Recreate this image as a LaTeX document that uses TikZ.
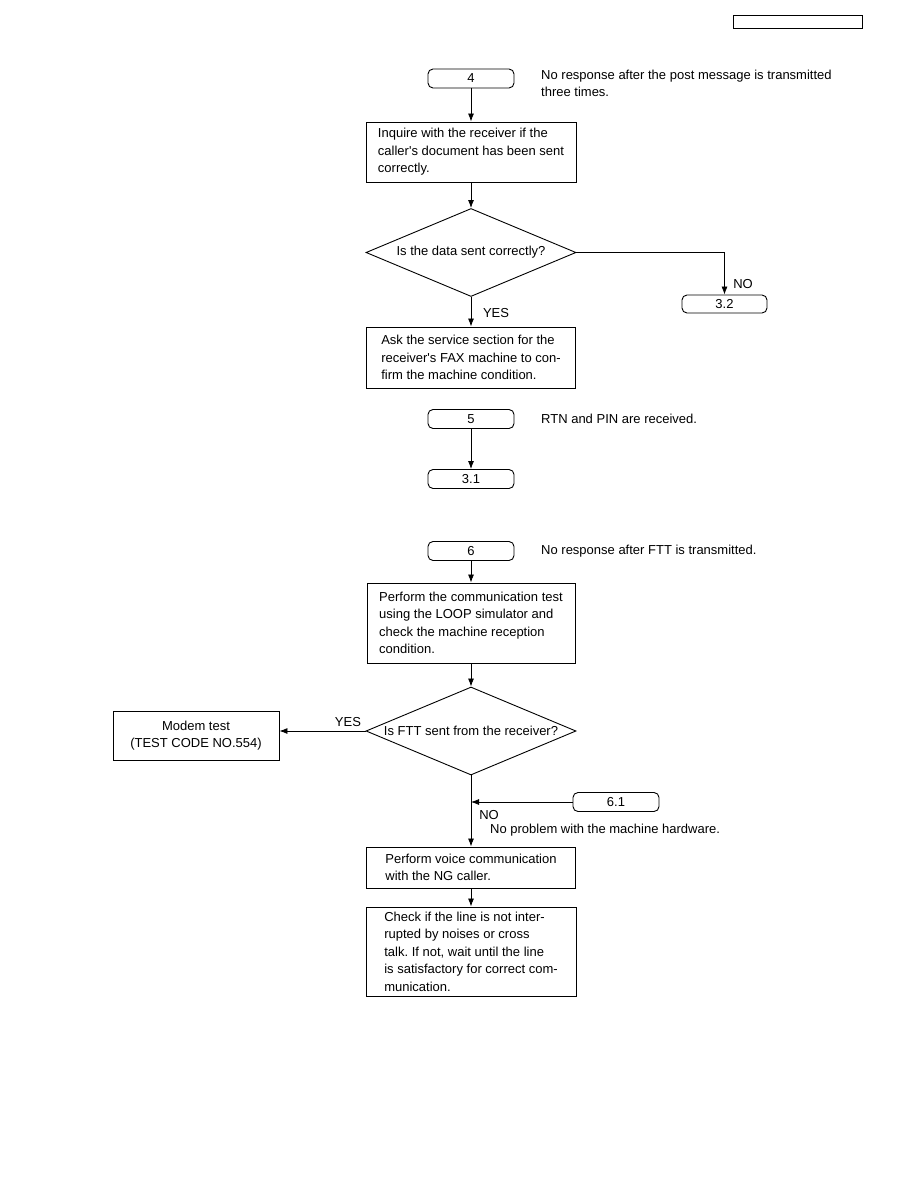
\documentclass[tikz,border=0pt]{standalone}
\usepackage{fontspec}
\setmainfont{Liberation Sans}
\usetikzlibrary{arrows.meta,shapes.geometric,positioning}

\newcommand{\flowfont}{\fontsize{13}{17.5}\selectfont\frenchspacing}

\begin{document}
\begin{tikzpicture}[
  x=1pt, y=-1pt,
  term/.style={rectangle, rounded corners=5pt, draw, line width=0.9pt,
               minimum width=86pt, minimum height=19pt, inner sep=0pt, font=\flowfont},
  proc/.style={rectangle, draw, line width=0.9pt, inner xsep=12pt, inner ysep=0pt,
               align=left, font=\flowfont},
  dec/.style={diamond, draw, line width=0.9pt, minimum width=210pt,
              minimum height=88pt, inner sep=0pt},
  lbl/.style={font=\flowfont, inner sep=0pt},
  note/.style={font=\flowfont, anchor=west, align=left, inner sep=0pt},
  arr/.style={-{Latex[length=8pt,width=6pt]}, line width=0.8pt}
]
\useasboundingbox (0,0) rectangle (918,1188);

\node[draw, line width=0.9pt, minimum width=129pt, minimum height=13pt, inner sep=0pt] (hdr) at (797.5,21.5) {};

% part 4
\node[term] (t4) at (471,78.5) {4};
\node[note] (n4) at (541,83.5) {No response after the post message is transmitted\\three times.};
\node[proc, minimum width=210pt, minimum height=60pt] (b1) at (471,152)
  {Inquire with the receiver if the\\caller\textquotesingle s document has been sent\\correctly.};
\node[dec, label={[lbl]center:Is the data sent correctly?}] (d1) at (471,252.5) {};
\node[term, minimum width=85pt, minimum height=18pt] (t32) at (724.5,304) {3.2};
\node[lbl] (no1) at (743,284) {NO};
\node[lbl] (yes1) at (496,313) {YES};
\node[proc, minimum width=209pt, minimum height=61pt] (b2) at (471,357.5)
  {Ask the service section for the\\receiver\textquotesingle s FAX machine to con-\\firm the machine condition.};

\draw[arr] (t4.south) -- (b1.north);
\draw[arr] (b1.south) -- (d1.north);
\draw[arr] (d1.east) -| (t32.north);
\draw[arr] (d1.south) -- (b2.north);

% part 5
\node[term] (t5) at (471,419) {5};
\node[note] (n5) at (541,419) {RTN and PIN are received.};
\node[term] (t31) at (471,479) {3.1};

\draw[arr] (t5.south) -- (t31.north);

% part 6
\node[term] (t6) at (471,551) {6};
\node[note] (n6) at (541,551) {No response after FTT is transmitted.};
\node[proc, minimum width=208pt, minimum height=80pt] (b3) at (471,623)
  {Perform the communication test\\using the LOOP simulator and\\check the machine reception\\condition.};
\node[dec, label={[lbl]center:Is FTT sent from the receiver?}] (d2) at (471,731) {};
\node[proc, align=center, minimum width=166pt, minimum height=49pt] (modem) at (196,735.5)
  {Modem test\\(TEST CODE NO.554)};
\node[lbl] (yes2) at (348,722) {YES};
\node[term] (t61) at (616,802) {6.1};
\node[lbl] (no2) at (489,815) {NO};
\node[note] (n61) at (490,830) {No problem with the machine hardware.};
\node[proc, minimum width=209pt, minimum height=41pt] (b4) at (471,867.5)
  {Perform voice communication\\with the NG caller.};
\node[proc, minimum width=210pt, minimum height=89pt] (b5) at (471,951.5)
  {Check if the line is not inter-\\rupted by noises or cross\\talk. If not, wait until the line\\is satisfactory for correct com-\\munication.};

\draw[arr] (t6.south) -- (b3.north);
\draw[arr] (b3.south) -- (d2.north);
\draw[arr] (d2.west) -- (d2.west -| modem.east);
\draw[arr] (d2.south) -- (b4.north);
\draw[arr] (t61.west) -- (t61.west -| d2.south);
\draw[arr] (b4.south) -- (b5.north);

\end{tikzpicture}
\end{document}
